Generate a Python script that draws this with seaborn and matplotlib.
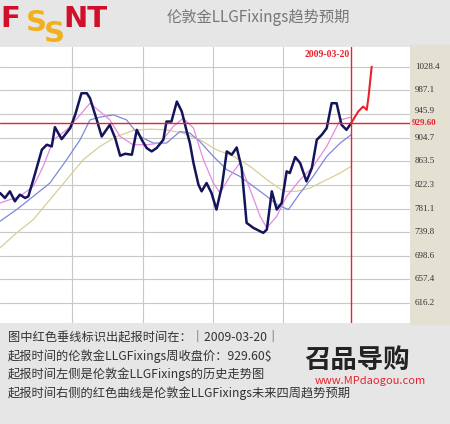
import numpy as np
import pandas as pd
import matplotlib
matplotlib.use("Agg")
import matplotlib.pyplot as plt
import seaborn as sns

sns.set_style("white")
plt.rcParams['font.family'] = ['Noto Sans CJK SC', 'DejaVu Sans']

# weekly closing price (week index, USD)
price_wk = [0, 1.1, 2.2, 3.3, 4.4, 5.6, 6.3, 7.4, 9.3, 10.4, 11.5, 12.2, 13.7, 15.6, 16.7, 18.1, 19.3, 20,
            21.5, 22.6, 24.4, 25.6, 26.7, 27.8, 29.3, 30.4, 31.5, 32.6, 33.7, 34.8, 36.3, 37, 38.1, 39.3,
            40.4, 41.5, 42.2, 43, 44.1, 44.8, 45.9, 47, 48.1, 49.3, 50.4, 51.5, 52.6, 53.7, 54.8, 56.3,
            58.5, 59.3, 60.4, 61.5, 62.6, 63.7, 64.4, 65.6, 66.7, 68.1, 69.3, 70.4, 71.5, 72.6, 73.7,
            74.8, 75.9, 77, 78]
price = [808.2, 799.5, 811.1, 793.7, 805.3, 799.5, 802.4, 831.4, 883.6, 892.3, 889.4, 923, 902.1, 921.2,
         944.4, 982.1, 982.1, 973.4, 935.7, 906.7, 927, 903.8, 873.1, 876.6, 874.9, 918.3, 901, 886.5,
         880.7, 886.5, 901, 932.8, 932.8, 967.6, 950.2, 915.4, 895.2, 860.4, 822.7, 811.1, 825.6, 808.2,
         779.3, 819.8, 880.7, 874.9, 887.6, 851.7, 756.1, 747.4, 738.7, 744.5, 811.1, 779.3, 790.8, 845.9,
         843, 870.8, 860.4, 828.5, 851.7, 901, 909.6, 921.2, 964.7, 964.7, 927, 918.3, 929.6]

ma_pink_wk = [0, 4.4, 7.4, 9.6, 11.9, 14.8, 17.8, 20, 22.2, 24.4, 26.7, 29.6, 32.6, 35.6, 38.5, 40.7, 43,
              45.2, 47.4, 48.9, 51.1, 53.3, 55.6, 57.8, 59.3, 61.5, 63.7, 66.7, 69.6, 72.6, 74.1, 75.6, 78]
ma_pink = [790.8, 802.4, 819.8, 854.6, 901, 918.3, 944.4, 964.7, 950.2, 935.7, 906.7, 892.3, 892.3, 895.2,
           924.1, 938.6, 921.2, 866.2, 825.6, 808.2, 837.2, 860.4, 814, 767.7, 747.4, 767.7, 802.4, 831.4,
           854.6, 889.4, 912.5, 935.7, 940.4]

ma_blue_wk = [0, 3.7, 7.4, 11.1, 14.8, 17.8, 20, 22.2, 25.2, 28.1, 31.1, 34.1, 37, 40, 42.2, 44.4, 47.4,
              50.4, 53.3, 56.3, 59.3, 61.5, 64.1, 66.7, 69.6, 72.6, 75.6, 78]
ma_blue = [759, 779.3, 802.4, 825.6, 866.2, 901, 935.7, 940.4, 944.4, 935.7, 906.7, 895.2, 895.2, 915.4,
           912.5, 898.1, 872, 848.8, 837.2, 819.8, 802.4, 788, 779.3, 808.2, 837.2, 872, 895.2, 909.6]

ma_tan_wk = [0, 3.7, 7.4, 11.1, 14.8, 18.5, 22.2, 25.9, 29.6, 33.3, 37, 40.7, 44.4, 48.1, 51.9, 55.6,
             59.3, 63, 65.9, 68.9, 72.6, 75.6, 78]
ma_tan = [712.6, 738.7, 761.9, 796.6, 831.4, 866.2, 889.4, 906.7, 917.2, 919.5, 918.3, 912.5, 901, 883.6,
          872, 854.6, 831.4, 811.1, 811.1, 816.9, 831.4, 843, 854.6]

fc_wk = [78, 79.6, 80.7, 81.5, 81.9, 82.6]
fc = [929.6, 950.2, 958.9, 953.1, 976.3, 1028.4]

yticks = [616.2, 657.4, 698.6, 739.8, 781.1, 822.3, 863.5, 904.7, 945.9, 987.1, 1028.4]
xgrid = [16, 31.8, 47.3, 62.9]
start_wk = 78
start_price = 929.6
start_date = "2009-03-20"

fig = plt.figure(figsize=(4.5, 4.24), dpi=100)
fig.patch.set_facecolor("#e6e6e6")
# beige label strip
strip = plt.Rectangle((0.911, 0.235), 0.089, 0.66, transform=fig.transFigure,
                      color="#e4e0d2", zorder=-5)
fig.add_artist(strip)
ax = fig.add_axes([0.0, 0.238, 0.911, 0.651])
ax.set_facecolor("white")

for y in yticks:
    ax.axhline(y, color="#c8c8c8", lw=0.8, zorder=0)
for x in xgrid:
    ax.axvline(x, color="#c8c8c8", lw=0.8, zorder=0)

sns.lineplot(x=ma_tan_wk, y=ma_tan, ax=ax, color="#d8cf96", lw=0.9)
sns.lineplot(x=ma_blue_wk, y=ma_blue, ax=ax, color="#7f88d8", lw=0.9)
sns.lineplot(x=ma_pink_wk, y=ma_pink, ax=ax, color="#e58ae0", lw=0.9)
sns.lineplot(x=price_wk, y=price, ax=ax, color="#14145a", lw=1.8)
sns.lineplot(x=fc_wk, y=fc, ax=ax, color="#e8232e", lw=1.5)

ax.axhline(start_price, color="#e8232e", lw=1.0)
ax.axvline(start_wk, color="#e8232e", lw=1.0)
ax.text(start_wk - 0.3, 1058, start_date, color="#e8232e", ha="right", va="top",
        fontsize=7, fontweight="bold", family="Liberation Serif")

ax.set_xlim(0, 91.1)
ax.set_ylim(581.4, 1062.6)
ax.set_xticks([])
ax.set_yticks([])
for s in ax.spines.values():
    s.set_visible(False)
for v in yticks:
    if v == 945.9:
        continue
    ax.text(1.012, (v - 581.4) / (1062.6 - 581.4), f"{v:.1f}", transform=ax.transAxes,
            color="#333333", fontsize=6.5, family="Liberation Serif", va="center")
ax.text(1.012, (945.9 - 581.4) / (1062.6 - 581.4) + 0.012, "945.9", transform=ax.transAxes,
        color="#333333", fontsize=6.5, family="Liberation Serif", va="center")
ax.text(1.004, (start_price - 581.4) / (1062.6 - 581.4), f"{start_price:.2f}", transform=ax.transAxes,
        color="#e8232e", fontsize=6.5, fontweight="bold", family="Liberation Serif", va="center")

# header
fig.text(0.0, 0.955, "F", color="#d0102a", fontsize=21, fontweight="bold", va="center", family="DejaVu Sans")
fig.text(0.058, 0.945, "S", color="#f2b01e", fontsize=21, fontweight="bold", va="center", family="DejaVu Sans")
fig.text(0.098, 0.92, "S", color="#f2b01e", fontsize=21, fontweight="bold", va="center", family="DejaVu Sans")
fig.text(0.14, 0.955, "NT", color="#d0102a", fontsize=21, fontweight="bold", va="center", family="DejaVu Sans")
fig.text(0.37, 0.958, "伦敦金LLGFixings趋势预期", color="#777777", fontsize=11, va="center")

lines = ["图中红色垂线标识出起报时间在：｜2009-03-20｜",
         "起报时间的伦敦金LLGFixings周收盘价：929.60$",
         "起报时间左侧是伦敦金LLGFixings的历史走势图",
         "起报时间右侧的红色曲线是伦敦金LLGFixings未来四周趋势预期"]
for i, t in enumerate(lines):
    fig.text(0.018, 0.205 - i * 0.044, t, color="#333333", fontsize=8.8, va="center")

fig.text(0.675, 0.15, "召品导购", color="#222222", fontsize=19, fontweight="bold", va="center")
fig.text(0.70, 0.102, "www.MPdaogou.com", color="#e8232e", fontsize=8, va="center")

fig.savefig("out.png", dpi=100)
